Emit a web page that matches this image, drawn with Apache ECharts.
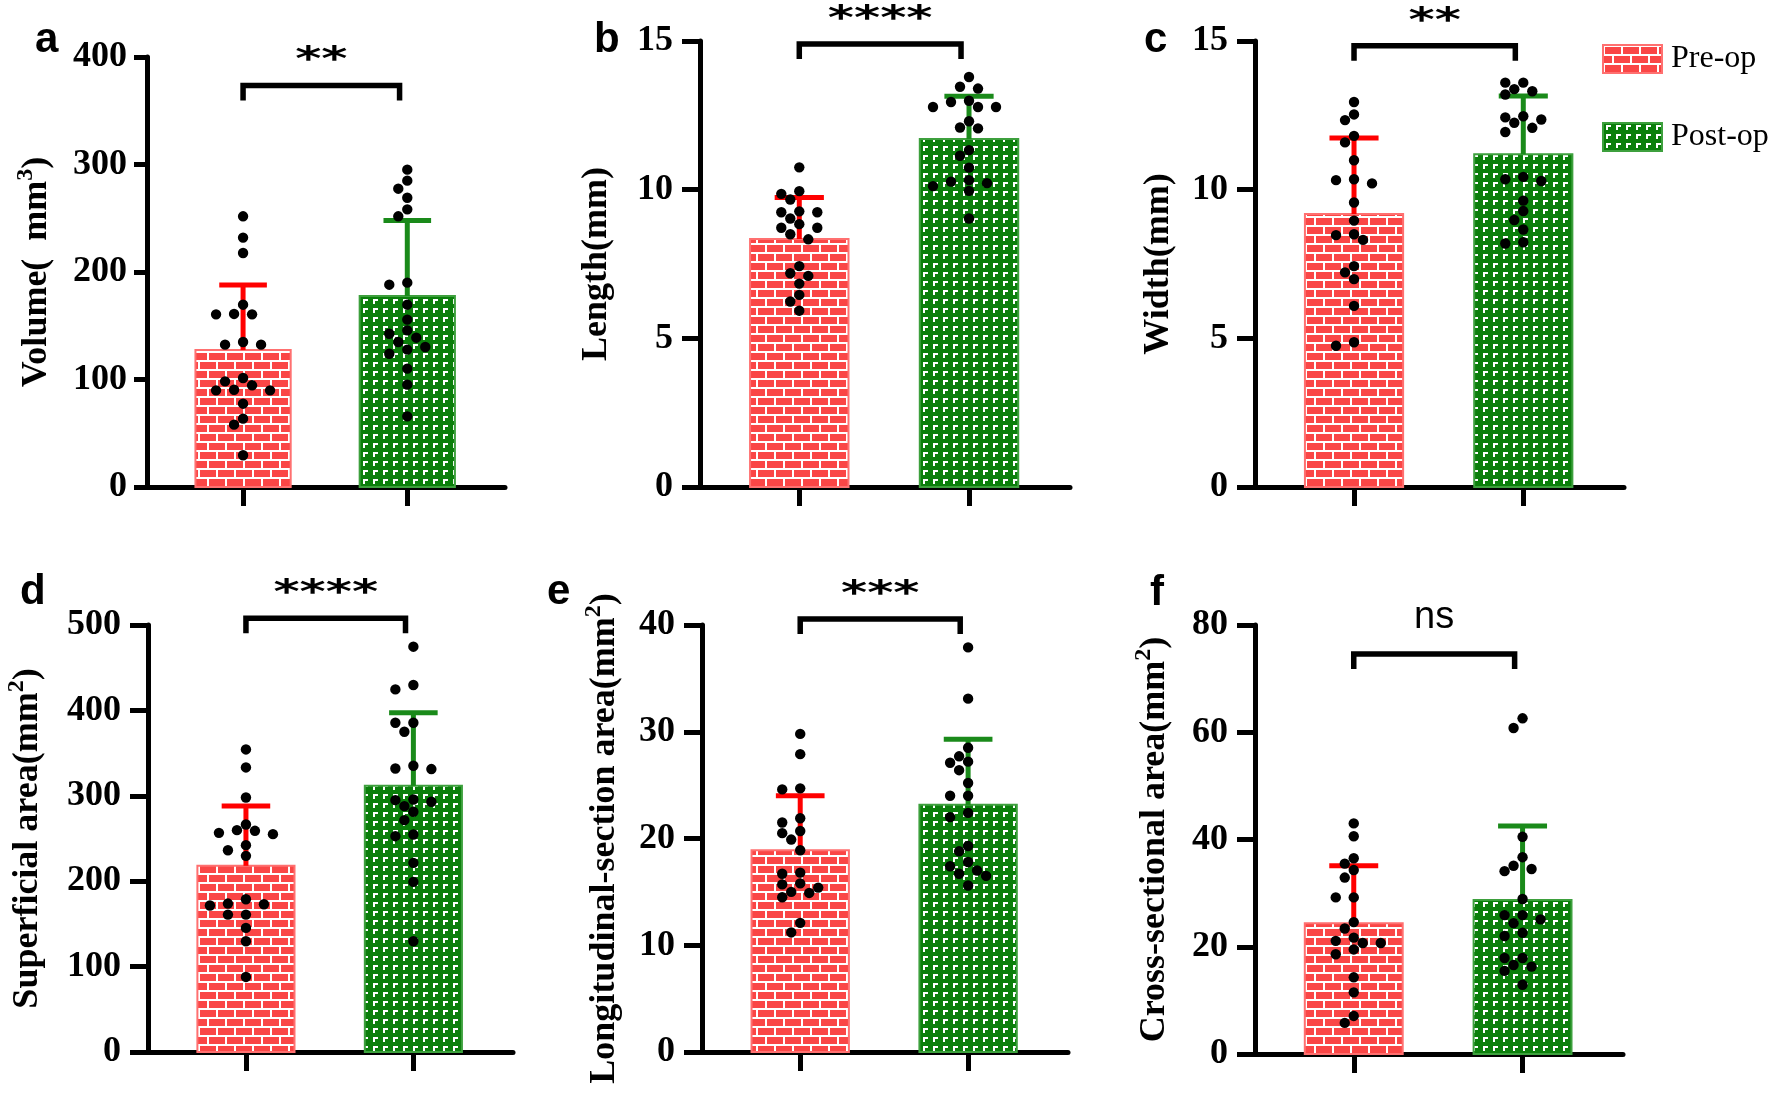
<!DOCTYPE html>
<html>
<head>
<meta charset="utf-8">
<script src="https://cdn.jsdelivr.net/npm/echarts@6/dist/echarts.min.js"></script>
<style>
  html, body { margin: 0; background: #fff; }
  #chart { width: 1770px; height: 1116px; }
</style>
</head>
<body>
<div id="chart"></div>
<script>
// ---- data ----
const panelLetters = ['a', 'b', 'c', 'd', 'e', 'f'];
const yTitles = ['Volume(  mm{sup|3})', 'Length(mm)', 'Width(mm)',
  'Superficial area(mm{sup|2})', 'Longitudinal-section area(mm{sup|2})', 'Cross-sectional area(mm{sup|2})'];
const yMax = [400, 15, 15, 500, 40, 80];
const yStep = [100, 5, 5, 100, 10, 20];
const groups = ['Pre-op', 'Post-op'];

const preMean = [127.4, 8.34, 9.18, 218, 18.9, 24.4];
const preSD = [60.6, 1.40, 2.56, 70, 5.1, 10.7];
const postMean = [177.7, 11.70, 11.19, 311.7, 23.15, 28.7];
const postSD = [70.3, 1.44, 1.96, 85.6, 6.15, 13.8];

const sigLabels = ['**', '****', '**', '****', '***', 'ns'];
const sigLevel = [373.5, 14.9, 14.84, 508, 40.56, 74.6];

const aPre = [251.8, 232, 217.7, 169.6, 161, 160.6, 160.6, 134.9, 132.4, 132.4, 101.4, 98.3, 94.6, 90.5, 89.9, 89.9, 77.5, 63.6, 58, 29.5];
const aPost = [295.2, 285, 277.5, 269.1, 258.3, 251.8, 190.1, 188.2, 169.6, 155.7, 145.7, 142.6, 138.9, 134.9, 130.2, 127.8, 124, 110.1, 95.2, 65.7];
const bPre = [10.75, 9.95, 9.86, 9.67, 9.27, 9.24, 9.24, 9.03, 8.84, 8.72, 8.72, 8.50, 8.33, 7.43, 7.19, 7.10, 6.84, 6.46, 6.24, 5.93];
const bPost = [13.79, 13.46, 13.40, 12.99, 12.95, 12.78, 12.78, 12.78, 12.30, 12.09, 12.06, 11.33, 11.14, 10.74, 10.32, 10.27, 10.22, 10.12, 9.96, 9.03];
const cPre = [12.95, 12.53, 12.34, 11.81, 11.59, 10.99, 10.35, 10.32, 10.21, 9.57, 8.96, 8.50, 8.47, 8.31, 7.43, 7.22, 6.99, 6.09, 4.87, 4.75];
const cPost = [13.60, 13.60, 13.38, 13.31, 13.20, 12.47, 12.43, 12.36, 12.25, 12.08, 11.94, 10.43, 10.35, 10.29, 9.63, 9.28, 8.98, 8.66, 8.23, 8.19];
const dPre = [354.3, 333.2, 298, 266.4, 259.8, 259, 256.6, 255.1, 242.2, 236.3, 229.7, 178.9, 173.8, 173, 171.5, 160.9, 160.9, 145.3, 129.7, 87.9];
const dPost = [474.6, 429.7, 424.6, 385.5, 385.5, 375, 335.2, 332, 331.3, 295.7, 294.9, 293, 287.9, 281.3, 271.5, 254.7, 252.7, 221.5, 199.2, 129.7];
const ePre = [29.8, 27.9, 24.7, 24.6, 21.9, 21.5, 20.7, 20.5, 19.9, 18.9, 16.8, 16.7, 15.8, 15.7, 15.4, 15.0, 14.9, 14.5, 12.1, 11.2];
const ePost = [37.9, 33.1, 28.5, 27.7, 27.2, 27.1, 26.4, 25.2, 24.0, 24.0, 22.4, 22.0, 19.3, 18.8, 17.8, 17.4, 17.0, 16.7, 16.5, 15.6];
const fPre = [43.0, 40.6, 36.5, 35.5, 34.3, 32.9, 29.2, 29.2, 24.6, 23.4, 21.7, 21.1, 20.7, 20.7, 19.5, 18.6, 14.3, 11.5, 7.1, 5.8];
const fPost = [62.6, 60.8, 40.5, 36.7, 35.1, 34.5, 34.1, 28.9, 25.9, 25.9, 25.1, 24.4, 22.6, 22.0, 17.9, 17.9, 16.6, 16.3, 15.5, 12.9];

const prePoints = [aPre, bPre, cPre, dPre, ePre, fPre];
const postPoints = [aPost, bPost, cPost, dPost, ePost, fPost];

// ---- layout ----
const boxes = [
  { left: 147, top: 57, width: 358, height: 430 },
  { left: 700, top: 41, width: 370, height: 446 },
  { left: 1255, top: 41, width: 369, height: 446 },
  { left: 148, top: 625, width: 365, height: 427 },
  { left: 702, top: 625, width: 366, height: 427 },
  { left: 1255, top: 625, width: 368, height: 429 }
];
const nameGaps = [87, 80, 73, 97, 74, 77];
const tickLen = [13, 18, 18, 18, 18, 18];
const labelMargin = [20, 27, 27, 27, 27, 27];
const letterPos = [[35, 19], [594, 19], [1144, 19], [20, 571], [547, 571], [1150, 572]];

const SERIF = '"Liberation Serif", "Times New Roman", serif';
const SANS = '"Liberation Sans", Arial, sans-serif';
const RED = '#ff0000', GREEN = '#1a8a1a';
const HALF_BAR = 0.29, HALF_CAP = 0.145, BR_END = 0.953;
const STEP = 9, MIN_D = 10.4, DOT_R = 5.2;

function brickTile () {
  const c = document.createElement('canvas')
  c.width = 18; c.height = 18
  const g = c.getContext('2d')
  g.fillStyle = '#ffffff'; g.fillRect(0, 0, 18, 18)
  g.fillStyle = '#fa4646'
  g.fillRect(2, 2, 16, 7)
  g.fillRect(0, 11, 9, 7)
  g.fillRect(11, 11, 7, 7)
  return c
}
function cornerTile () {
  const c = document.createElement('canvas')
  c.width = 10; c.height = 9
  const g = c.getContext('2d')
  g.fillStyle = '#0b7f0b'; g.fillRect(0, 0, 10, 9)
  g.fillStyle = '#ffffff'
  g.fillRect(3, 2, 5, 2)
  g.fillRect(3, 2, 2, 5)
  return c
}
const fills = [
  { image: brickTile(), repeat: 'repeat' },
  { image: cornerTile(), repeat: 'repeat' }
];
const borders = ['#ff7070', '#3da03d'];

function barItem (params, api) {
  const x = api.value(0), v = api.value(1)
  const p0 = api.coord([x - HALF_BAR, v])
  const p1 = api.coord([x + HALF_BAR, 0])
  const g = x === 0 ? 0 : 1
  return {
    type: 'rect',
    shape: { x: p0[0], y: p0[1], width: p1[0] - p0[0], height: p1[1] - p0[1] },
    style: { fill: fills[g], stroke: borders[g], lineWidth: 2 }
  }
}

function errItem (params, api) {
  const x = api.value(0), m = api.value(1), s = api.value(2)
  const b = api.coord([x, m]), t = api.coord([x, m + s])
  const l = api.coord([x - HALF_CAP, m + s]), r = api.coord([x + HALF_CAP, m + s])
  const color = x === 0 ? RED : GREEN
  return {
    type: 'group',
    children: [
      { type: 'line', shape: { x1: b[0], y1: b[1], x2: t[0], y2: t[1] }, style: { stroke: color, lineWidth: 5 } },
      { type: 'line', shape: { x1: l[0], y1: l[1], x2: r[0], y2: r[1] }, style: { stroke: color, lineWidth: 5 } }
    ]
  }
}

// simple beeswarm: place dots from top down, nearest free slot to the centre
function swarmItem (values, cx) {
  let offs = null
  return function (params, api) {
    if (params.dataIndex === 0 || !offs) {
      const pts = values.map((v, i) => ({ i: i, y: api.coord([cx, v])[1] }))
      const order = pts.slice().sort((p, q) => p.y - q.y)
      const placed = []
      offs = []
      order.forEach(p => {
        for (let k = 0; k < 60; k++) {
          const m = k === 0 ? 0 : (k % 2 ? -Math.ceil(k / 2) : k / 2)
          const dx = m * STEP
          if (placed.every(q => (q.dx - dx) * (q.dx - dx) + (q.y - p.y) * (q.y - p.y) >= MIN_D * MIN_D)) {
            p.dx = dx
            placed.push(p)
            break
          }
        }
        offs[p.i] = p.dx
      })
    }
    const c = api.coord([api.value(0), api.value(1)])
    return {
      type: 'circle',
      shape: { cx: c[0] + offs[params.dataIndex], cy: c[1], r: DOT_R },
      style: { fill: '#000' }
    }
  }
}

function bracketItem (label) {
  return function (params, api) {
    const lvl = api.value(1)
    const p0 = api.coord([0, lvl]), p1 = api.coord([BR_END, lvl])
    const ns = label === 'ns'
    return {
      type: 'group',
      children: [
        {
          type: 'polyline',
          shape: { points: [[p0[0], p0[1] + 15], [p0[0], p0[1]], [p1[0], p1[1]], [p1[0], p1[1] + 15]] },
          style: { stroke: '#000', lineWidth: 5.5, fill: null, lineJoin: 'miter' }
        },
        {
          type: 'text',
          x: (p0[0] + p1[0]) / 2,
          y: p0[1] - (ns ? 36 : 24),
          scaleY: ns ? 1 : 0.68,
          style: {
            text: label, align: 'center', verticalAlign: 'middle',
            fontSize: ns ? 38 : 50, fontWeight: ns ? 'normal' : 'bold',
            fontFamily: ns ? SANS : '"DejaVu Sans", sans-serif', fill: '#000'
          }
        }
      ]
    }
  }
}

const grid = [], xAxis = [], yAxis = [], series = [], title = []
boxes.forEach((b, i) => {
  grid.push(Object.assign({ containLabel: false }, b))
  title.push({
    text: panelLetters[i], left: letterPos[i][0], top: letterPos[i][1], padding: 0,
    textStyle: { fontSize: 42, fontWeight: 'bold', fontFamily: SANS, color: '#000' }
  })
  xAxis.push({
    gridIndex: i, type: 'value', min: -0.585, max: 1.595,
    axisLine: { show: true, onZero: false, lineStyle: { color: '#000', width: 5 } },
    axisTick: { show: true, customValues: [0, 1], length: 19, lineStyle: { color: '#000', width: 5 } },
    axisLabel: { show: false },
    splitLine: { show: false }
  })
  yAxis.push({
    gridIndex: i, type: 'value', min: 0, max: yMax[i], interval: yStep[i],
    name: yTitles[i], nameLocation: 'middle', nameGap: nameGaps[i], nameRotate: 90,
    nameTextStyle: {
      fontSize: 36, fontWeight: 'bold', fontFamily: SERIF, color: '#000', lineHeight: 46,
      rich: { sup: { fontSize: 24, fontWeight: 'bold', fontFamily: SERIF, color: '#000', lineHeight: 24, verticalAlign: 'top' } }
    },
    axisLine: { show: true, onZero: false, lineStyle: { color: '#000', width: 5 } },
    axisTick: { show: true, length: tickLen[i], lineStyle: { color: '#000', width: 5 } },
    axisLabel: { fontSize: 36, fontWeight: 'bold', fontFamily: SERIF, color: '#000', margin: labelMargin[i] },
    splitLine: { show: false }
  })
  const means = [preMean[i], postMean[i]]
  const sds = [preSD[i], postSD[i]]
  const pts = [prePoints[i], postPoints[i]]
  groups.forEach((name, g) => {
    series.push({
      name: name, type: 'custom', xAxisIndex: i, yAxisIndex: i, z: 2,
      itemStyle: { color: fills[g], borderColor: borders[g], borderWidth: 2 },
      renderItem: barItem, data: [[g, means[g]]]
    })
  })
  series.push({
    type: 'custom', xAxisIndex: i, yAxisIndex: i, z: 3, renderItem: errItem,
    data: [[0, means[0], sds[0]], [1, means[1], sds[1]]]
  })
  groups.forEach((name, g) => {
    series.push({
      type: 'custom', xAxisIndex: i, yAxisIndex: i, z: 4,
      renderItem: swarmItem(pts[g], g),
      data: pts[g].map(v => [g, v])
    })
  })
  series.push({
    type: 'custom', xAxisIndex: i, yAxisIndex: i, z: 5,
    renderItem: bracketItem(sigLabels[i]), data: [[0, sigLevel[i]]]
  })
})

const chart = echarts.init(document.getElementById('chart'))
chart.setOption({
  animation: false,
  backgroundColor: '#fff',
  title: title,
  legend: {
    orient: 'vertical', left: 1602, top: 43, padding: 0,
    itemWidth: 59, itemHeight: 28, itemGap: 46, icon: 'rect',
    textStyle: { fontSize: 32, fontFamily: SERIF, color: '#000', padding: [0, 0, 0, 4] },
    data: [
      { name: 'Pre-op', itemStyle: { color: fills[0], borderColor: borders[0], borderWidth: 2 } },
      { name: 'Post-op', itemStyle: { color: fills[1], borderColor: borders[1], borderWidth: 2 } }
    ]
  },
  grid: grid,
  xAxis: xAxis,
  yAxis: yAxis,
  series: series
})
</script>
</body>
</html>
